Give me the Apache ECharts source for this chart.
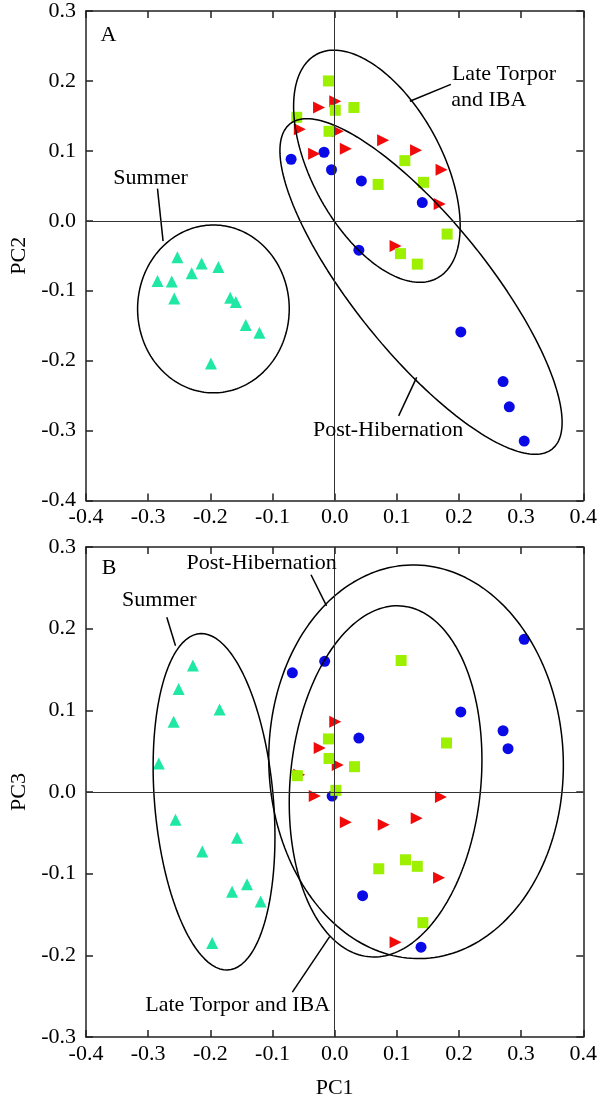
<!DOCTYPE html>
<html><head><meta charset="utf-8">
<script src="https://cdn.jsdelivr.net/npm/echarts@6/dist/echarts.min.js"></script>
<style>html,body{margin:0;padding:0;background:#fff}#c{width:600px;height:1100px}</style>
</head><body><div id="c"></div>
<script>
// ---------- Panel A: PC1 vs PC2 ----------
const summerA = [[-0.253,-0.052],[-0.214,-0.061],[-0.187,-0.066],[-0.230,-0.075],[-0.285,-0.086],[-0.262,-0.087],[-0.258,-0.111],[-0.168,-0.110],[-0.159,-0.116],[-0.143,-0.149],[-0.121,-0.160],[-0.199,-0.204]];
const lateTorporA = [[-0.025,0.162],[0.001,0.171],[-0.056,0.131],[0.005,0.128],[0.078,0.115],[0.018,0.103],[-0.033,0.096],[0.131,0.101],[0.172,0.073],[0.169,0.024],[0.098,-0.036]];
const ibaA = [[-0.010,0.200],[-0.061,0.148],[0.001,0.158],[0.031,0.162],[-0.009,0.128],[0.113,0.086],[0.070,0.052],[0.143,0.055],[0.181,-0.019],[0.106,-0.047],[0.133,-0.062]];
const postHibA = [[-0.070,0.088],[-0.017,0.098],[-0.005,0.073],[0.043,0.057],[0.141,0.026],[0.039,-0.042],[0.203,-0.159],[0.271,-0.230],[0.281,-0.266],[0.305,-0.315]];
// ---------- Panel B: PC1 vs PC3 ----------
const summerB = [[-0.228,0.155],[-0.251,0.126],[-0.185,0.101],[-0.259,0.086],[-0.283,0.035],[-0.256,-0.034],[-0.157,-0.056],[-0.213,-0.073],[-0.141,-0.113],[-0.165,-0.122],[-0.119,-0.134],[-0.197,-0.185]];
const lateTorporB = [[0.001,0.086],[-0.024,0.054],[0.005,0.033],[-0.057,0.021],[-0.032,-0.005],[0.171,-0.006],[0.018,-0.037],[0.079,-0.040],[0.132,-0.032],[0.168,-0.105],[0.098,-0.184]];
const ibaB = [[0.107,0.161],[0.180,0.060],[-0.010,0.065],[-0.009,0.041],[0.032,0.031],[-0.060,0.020],[0.002,0.002],[0.071,-0.094],[0.114,-0.083],[0.133,-0.091],[0.142,-0.160]];
const postHibB = [[-0.068,0.146],[-0.016,0.160],[0.305,0.187],[0.203,0.098],[0.271,0.075],[0.279,0.053],[0.039,0.066],[-0.004,-0.005],[0.045,-0.127],[0.139,-0.190]];

// Group ellipses: [centerX, centerY, halfWidth, halfHeight, phaseDeg]
const ellipsesA = [[-0.195,-0.126,0.122,0.120,90],[0.068,0.078,0.134,0.166,121],[0.139,-0.094,0.227,0.240,144]];
const ellipsesB = [[-0.194,-0.012,0.098,0.206,102],[0.131,0.037,0.237,0.241,91],[0.082,0.013,0.155,0.215,83]];

// Annotation text (data coordinates of text centres)
const labelsA = [[-0.364,0.265,'A'],[-0.296,0.061,'Summer'],[0.2725,0.209,'Late Torpor'],[0.248,0.173,'and IBA'],[0.086,-0.300,'Post-Hibernation']];
const labelsB = [[-0.363,0.274,'B'],[-0.1175,0.280,'Post-Hibernation'],[-0.282,0.235,'Summer'],[-0.156,-0.261,'Late Torpor and IBA']];
// Leader lines
const leadersA = [[[-0.285,0.046],[-0.276,-0.029]],[[0.187,0.195],[0.121,0.171]],[[0.103,-0.279],[0.132,-0.224]]];
const leadersB = [[[-0.038,0.266],[-0.013,0.228]],[[-0.270,0.214],[-0.256,0.179]],[[-0.068,-0.245],[-0.008,-0.177]]];

const xTicks = {min:-0.4, max:0.4, interval:0.1};
const yTicksA = {min:-0.4, max:0.3, interval:0.1};
const yTicksB = {min:-0.3, max:0.3, interval:0.1};

const FONT = "'Liberation Serif','Times New Roman',serif";
const C = {summer:'#1ee8a4', late:'#f00a0a', iba:'#9cf000', post:'#0a0ae6'};

function ellipsePts(e){
  const [cx,cy,w,h,d]=e; const pts=[];
  for(let i=0;i<=200;i++){const t=i/200*2*Math.PI; pts.push([cx+w*Math.cos(t), cy+h*Math.cos(t+d*Math.PI/180)]);}
  return pts;
}
const fmt = v => (Math.abs(v)<1e-9?0:v).toFixed(1);
const axisLine = {show:true, onZero:false, lineStyle:{color:'#222', width:1.5}};
const tick = {show:true, inside:true, length:7, lineStyle:{color:'#222', width:1.5}};
function xAx(g, pos, name){
  return Object.assign({type:'value', gridIndex:g, position:pos, ...xTicks,
    axisLine, axisTick:tick, splitLine:{show:false},
    axisLabel:{show:pos==='bottom', formatter:fmt, fontSize:22, fontFamily:FONT, color:'#000', margin:6},
  }, name?{name, nameLocation:'middle', nameGap:40, nameTextStyle:{fontSize:22, fontFamily:FONT, color:'#000'}}:{});
}
function yAx(g, pos, ticks, name){
  return Object.assign({type:'value', gridIndex:g, position:pos, ...ticks,
    axisLine, axisTick:tick, splitLine:{show:false},
    axisLabel:{show:pos==='left', formatter:fmt, fontSize:22, fontFamily:FONT, color:'#000', margin:10},
  }, name?{name, nameLocation:'middle', nameGap:56, nameTextStyle:{fontSize:22, fontFamily:FONT, color:'#000'}}:{});
}

function panelSeries(ax, groups, ells, labels, leaders){
  const s = [];
  s.push({type:'line', xAxisIndex:ax, yAxisIndex:ax, data:[], silent:true, z:1,
    markLine:{silent:true, symbol:'none', label:{show:false}, animation:false,
      lineStyle:{color:'#333', width:1, type:'solid'}, data:[{xAxis:0},{yAxis:0}]}});
  const [sum, late, iba, post] = groups;
  const base = {type:'scatter', xAxisIndex:ax, yAxisIndex:ax, z:3};
  s.push({...base, data:sum, symbol:'triangle', symbolSize:12, itemStyle:{color:C.summer, opacity:1}});
  s.push({...base, data:post, symbol:'circle', symbolSize:11, itemStyle:{color:C.post, opacity:1}});
  s.push({...base, data:late, symbol:'triangle', symbolRotate:-90, symbolSize:12, itemStyle:{color:C.late, opacity:1}});
  s.push({...base, data:iba, symbol:'rect', symbolSize:11, itemStyle:{color:C.iba, opacity:1}});
  ells.forEach(e => s.push({type:'line', xAxisIndex:ax, yAxisIndex:ax, data:ellipsePts(e), showSymbol:false, symbol:'none', smooth:false, silent:true, z:4,
    lineStyle:{color:'#000', width:1.5}}));
  leaders.forEach(l => s.push({type:'line', xAxisIndex:ax, yAxisIndex:ax, data:l, showSymbol:false, symbol:'none', silent:true, z:4,
    lineStyle:{color:'#000', width:1.5}}));
  s.push({type:'scatter', xAxisIndex:ax, yAxisIndex:ax, data:labels, symbolSize:1, silent:true, z:5,
    itemStyle:{color:'rgba(0,0,0,0)', opacity:1},
    label:{show:true, position:'inside', formatter:p=>p.data[2], color:'#000', textBorderWidth:0, fontSize:22, fontFamily:FONT}});
  return s;
}

const chart = echarts.init(document.getElementById('c'), null, {renderer:'canvas'});
chart.setOption({
  animation:false,
  backgroundColor:'#fff',
  grid:[{left:75, top:6, width:513, height:494.5},{left:75, top:547, width:513, height:491}],
  xAxis:[xAx(0,'bottom'), xAx(0,'top'), xAx(1,'bottom','PC1'), xAx(1,'top')],
  yAxis:[yAx(0,'left',yTicksA,'PC2'), yAx(0,'right',yTicksA), yAx(1,'left',yTicksB,'PC3'), yAx(1,'right',yTicksB)],
  series:[
    ...panelSeries(0,[summerA,lateTorporA,ibaA,postHibA],ellipsesA,labelsA,leadersA),
    ...panelSeries(2,[summerB,lateTorporB,ibaB,postHibB],ellipsesB,labelsB,leadersB)
  ]
});
</script></body></html>
